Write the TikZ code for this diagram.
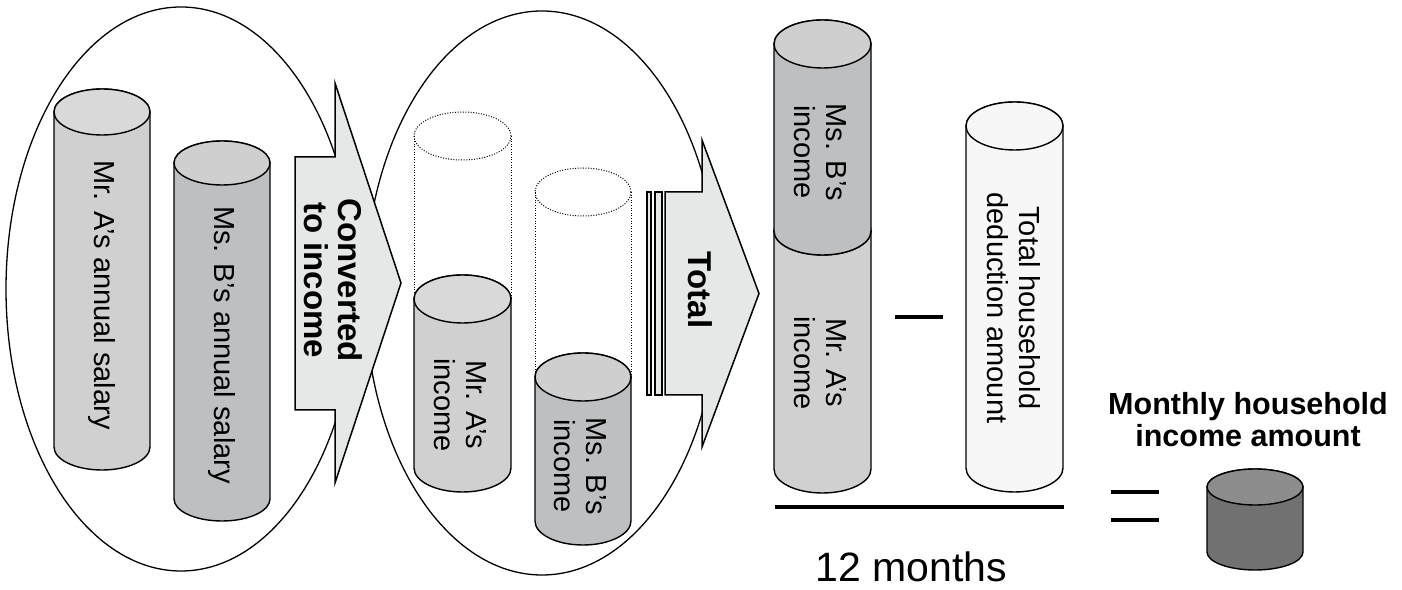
\documentclass[tikz,border=0pt]{standalone}
\usepackage{fontspec}
\setmainfont{Liberation Sans}

\definecolor{agray}{HTML}{D0D0D0}
\definecolor{agraytop}{HTML}{D9D9D9}
\definecolor{bgray}{HTML}{BEBFC1}
\definecolor{bgraytop}{HTML}{CFCFD0}
\definecolor{arrowgray}{HTML}{E6E7E7}
\definecolor{dedgray}{HTML}{F7F7F7}
\definecolor{mgray}{HTML}{717171}
\definecolor{mgraytop}{HTML}{8C8D8C}

% solid cylinder: centre x, radius x, top y, bottom y, radius y, body colour, lid colour
\newcommand{\drawcyl}[7]{%
  \filldraw[cylline, fill=#6] ({#1-#2},#3) -- ({#1-#2},#4)
     arc[start angle=180, end angle=360, x radius=#2, y radius=#5]
     -- ({#1+#2},#3)
     arc[start angle=0, end angle=180, x radius=#2, y radius=#5] -- cycle;
  \filldraw[cylline, fill=#7] (#1,#3) ellipse[x radius=#2, y radius=#5];
}
% dotted outline of an empty cylinder
\newcommand{\ghostcyl}[5]{%
  \draw[ghost] (#1,#3) ellipse[x radius=#2, y radius=#5];
  \draw[ghost] ({#1-#2},#3) -- ({#1-#2},#4);
  \draw[ghost] ({#1+#2},#3) -- ({#1+#2},#4);
}

\tikzset{
  cylline/.style={line width=1.4pt, draw=black},
  ghost/.style={line width=1pt, dash pattern=on 1pt off 1.6pt},
  ring/.style={line width=1.3pt},
  bigarrow/.style={line width=1.5pt, fill=arrowgray, line join=miter},
  vlabel/.style={rotate=-90, align=center, inner sep=0pt,
    font=\fontsize{29}{32}\selectfont},
  vbold/.style={rotate=-90, align=center, inner sep=0pt,
    font=\fontsize{33}{34}\selectfont\bfseries},
  opline/.style={line width=4pt},
}

\begin{document}
\begin{tikzpicture}[x=1pt, y=1pt]
\useasboundingbox (0,0) rectangle (1402,589);

% the two groups
\draw[ring] (181,300) ellipse[x radius=175, y radius=282];
\draw[ring] (542,296) ellipse[x radius=177, y radius=282];

% arrow "Converted to income"
\filldraw[bigarrow] (295,432) -- (335,432) -- (335,506) -- (401,306)
  -- (335,106) -- (335,179) -- (295,179) -- cycle;
\node[vbold] (conv) at (333,309) {Converted\\to income};

% arrow "Total" with its tail strips
\filldraw[bigarrow, line width=1.2pt] (647,397) rectangle (651,194);
\filldraw[bigarrow, line width=1.2pt] (655,397) rectangle (662,194);
\filldraw[bigarrow] (665,397) -- (702,397) -- (702,449) -- (759,295.5)
  -- (702,142) -- (702,194) -- (665,194) -- cycle;
\node[vbold] (total) at (700,299) {Total};

% annual salaries
\drawcyl{102}{48}{477}{142}{23}{agray}{agraytop}
\node[vlabel] (salA) at (102,294) {Mr. A’s annual salary};
\drawcyl{222}{48}{426}{90}{22}{bgray}{bgraytop}
\node[vlabel] (salB) at (222,244) {Ms. B’s annual salary};

% incomes after conversion
\ghostcyl{462.5}{48.5}{453}{290}{24}
\drawcyl{462.5}{48.5}{290}{121}{24}{agray}{agraytop}
\node[vlabel] (incA) at (460,184) {Mr. A’s\\income};
\ghostcyl{583}{48}{397}{212}{24}
\drawcyl{583}{48}{212}{68}{24}{bgray}{bgraytop}
\node[vlabel] (incB) at (580,123) {Ms. B’s\\income};

% stacked total
\drawcyl{822.5}{48.5}{358}{120}{24}{agray}{agraytop}
\drawcyl{822.5}{48.5}{545}{358}{24}{bgray}{bgraytop}
\node[vlabel] (stB) at (820,437) {Ms. B’s\\income};
\node[vlabel] (stA) at (820,226) {Mr. A’s\\income};

% minus sign and deduction
\coordinate (m1) at (895,272);
\coordinate (m2) at (943,272);
\draw[opline] (m1) -- (m2);
\drawcyl{1014.5}{48.5}{463}{121}{24}{dedgray}{dedgray}
\node[vlabel] (ded) at (1014,281) {Total household\\deduction amount};

% fraction bar and denominator
\coordinate (f1) at (775,82);
\coordinate (f2) at (1064,82);
\draw[opline] (f1) -- (f2);
\node[anchor=base, inner sep=0pt, font=\fontsize{41}{44}\selectfont]
  (months) at (911.5,8) {12 months};

% equals sign and result
\coordinate (e1) at (1111,97);
\coordinate (e2) at (1159,97);
\coordinate (e3) at (1111,69);
\coordinate (e4) at (1159,69);
\draw[opline] (e1) -- (e2);
\draw[opline] (e3) -- (e4);
\drawcyl{1255}{48}{102}{37}{18}{mgray}{mgraytop}
\node[anchor=base, inner sep=0pt, font=\fontsize{30.5}{33}\selectfont\bfseries]
  (res1) at (1248,174) {Monthly household};
\node[anchor=base, inner sep=0pt, font=\fontsize{30.5}{33}\selectfont\bfseries]
  (res2) at (1248,142) {income amount};
\end{tikzpicture}
\end{document}
